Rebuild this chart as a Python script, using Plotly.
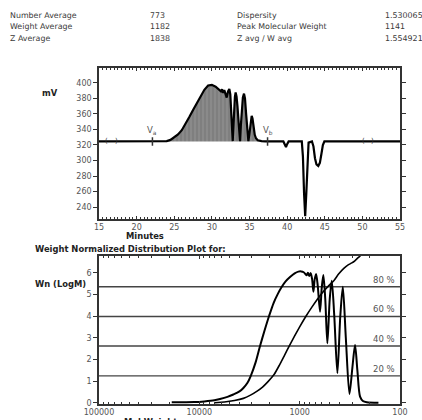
import plotly.graph_objects as go

# ---------------- data ----------------
header_left_labels = ["Number Average", "Weight Average", "Z Average"]
header_left_values = ["773", "1182", "1838"]
header_right_labels = ["Dispersity", "Peak Molecular Weight", "Z avg / W avg"]
header_right_values = ["1.530065", "1141", "1.554921"]

# chromatogram (minutes, mV)
time_min = [15, 23.6, 24.0, 24.5, 25.0, 25.5, 26.0, 26.5, 27.0, 27.5, 28.0, 28.5, 29.0, 29.5,
            30.0, 30.5, 31.0, 31.2, 31.35, 31.5, 31.65, 31.8, 31.97, 32.15, 32.32, 32.45, 32.6,
            32.77, 32.87, 32.97, 33.06, 33.16, 33.28, 33.4, 33.55, 33.65, 33.74, 33.85, 33.97,
            34.12, 34.27, 34.4, 34.55, 34.7, 34.85, 34.97, 35.1, 35.2, 35.29, 35.4, 35.55, 35.7,
            35.86, 36.1, 36.6, 37.1, 39.5, 39.7, 39.85, 40.0, 40.2, 41.95, 42.1, 42.25, 42.4,
            42.55, 42.7, 42.85, 43.3, 43.5, 43.7, 43.9, 44.14, 44.35, 44.55, 44.75, 44.95, 55]
signal_mv = [324.5, 324.5, 325.0, 326.5, 329.5, 333.5, 339.0, 347.0, 356.0, 365.0, 374.0, 383.0, 391.0, 396.5,
             397.3, 395.0, 391.5, 389.0, 391.5, 387.0, 390.5, 386.0, 381.0, 389.0, 392.0, 385.0, 360.0,
             325.0, 345.0, 368.0, 382.0, 387.5, 382.0, 370.0, 350.0, 335.0, 325.0, 345.0, 368.0,
             381.0, 386.0, 380.0, 360.0, 338.0, 325.0, 333.0, 345.0, 354.0, 357.4, 354.0, 343.0, 333.0,
             328.6, 326.0, 325.0, 324.5, 324.5, 321.0, 317.4, 321.0, 324.5, 324.5, 305.0, 258.0, 228.5,
             258.0, 305.0, 323.0, 324.5, 318.0, 303.0, 295.0, 293.0, 297.0, 308.0, 320.0, 324.5, 324.5]
baseline_mv = 324.5
peak_start_min = 23.6
peak_end_min = 37.1
va_min = 22.1
vb_min = 37.4
bracket_left = [16.0, 17.3]
bracket_right = [50.1, 51.4]
mv_ticks = [240, 260, 280, 300, 320, 340, 360, 380, 400]
minute_ticks = [15, 20, 25, 30, 35, 40, 45, 50, 55]

# weight normalized distribution (log10 M, Wn)
dist_logm = [4.275, 4.05, 3.95, 3.85, 3.794, 3.72, 3.661, 3.60, 3.561, 3.52, 3.488, 3.44, 3.395, 3.35,
             3.305, 3.26, 3.22, 3.178, 3.14, 3.096, 3.05, 3.013, 2.985, 2.96, 2.945, 2.93, 2.918,
             2.905, 2.89, 2.876, 2.863, 2.85, 2.836, 2.82, 2.797, 2.78, 2.764, 2.745, 2.724, 2.70,
             2.68, 2.655, 2.624, 2.595, 2.57, 2.54, 2.504, 2.475, 2.448, 2.425, 2.398, 2.37, 2.331, 2.215]
dist_wn = [0.02, 0.03, 0.06, 0.11, 0.17, 0.27, 0.38, 0.52, 0.68, 0.92, 1.23, 1.85, 2.62, 3.33,
           4.0, 4.6, 5.0, 5.35, 5.6, 5.8, 5.97, 6.05, 6.06, 6.02, 5.95, 5.88, 6.0,
           5.85, 5.98, 5.7, 5.12, 5.7, 5.94, 5.4, 4.2, 5.3, 5.89, 4.8, 2.74, 4.8,
           5.63, 4.0, 1.36, 4.0, 5.35, 3.0, 0.4, 1.6, 2.66, 1.5, 0.28, 0.08, 0.02, 0.0]

# cumulative distribution (log10 M, Wn-scale)
cum_logm = [3.85, 3.75, 3.65, 3.561, 3.49, 3.428, 3.37, 3.32, 3.255, 3.2, 3.15, 3.103, 3.05, 3.0,
            2.936, 2.88, 2.82, 2.77, 2.714, 2.66, 2.61, 2.56, 2.52, 2.48, 2.45, 2.42, 2.398, 2.37]
cum_wn = [0.0, 0.03, 0.1, 0.2, 0.35, 0.52, 0.72, 0.95, 1.3, 1.75, 2.2, 2.62, 3.08, 3.5,
          4.0, 4.4, 4.8, 5.1, 5.38, 5.63, 5.95, 6.2, 6.35, 6.45, 6.55, 6.68, 6.77, 6.9]

pct_labels = ["20 %", "40 %", "60 %", "80 %"]
pct_levels = [1.24, 2.62, 3.98, 5.35]
wn_ticks = [0, 1, 2, 3, 4, 5, 6]
mw_ticks = [100000, 10000, 1000, 100]
mw_ticktext = ["100000", "10000", "1000", "100"]

# ---------------- figure ----------------
W, H = 422, 420
FONT = "DejaVu Sans"
AX = "#333333"
TXT = "#555555"


def px(x):
    return x / W


def py(y):
    return 1 - y / H


fig = go.Figure()

# top chromatogram fill
pk_t = [t for t in time_min if peak_start_min <= t <= peak_end_min]
pk_v = [v for t, v in zip(time_min, signal_mv) if peak_start_min <= t <= peak_end_min]
fig.add_trace(go.Scatter(x=[pk_t[0], pk_t[-1]], y=[baseline_mv, baseline_mv], mode="lines",
                         line=dict(width=0), showlegend=False, hoverinfo="skip",
                         xaxis="x", yaxis="y"))
fig.add_trace(go.Scatter(x=pk_t, y=pk_v, mode="lines", line=dict(width=0), fill="tonexty",
                         fillcolor="#858585",
                         fillpattern=dict(shape="|", bgcolor="#8a8a8a", fgcolor="#6a6a6a",
                                          size=4, solidity=0.35),
                         showlegend=False, hoverinfo="skip", xaxis="x", yaxis="y"))
fig.add_trace(go.Scatter(x=time_min, y=signal_mv, mode="lines",
                         line=dict(color="black", width=2.2), showlegend=False,
                         xaxis="x", yaxis="y"))
fig.add_trace(go.Scatter(x=[va_min, vb_min], y=[baseline_mv, baseline_mv], mode="markers",
                         marker=dict(symbol="line-ns", size=6, line=dict(color=AX, width=1.5)),
                         showlegend=False, xaxis="x", yaxis="y"))

# bottom distribution
fig.add_trace(go.Scatter(x=[10 ** v for v in cum_logm], y=cum_wn, mode="lines",
                         line=dict(color="black", width=1.6, shape="spline", smoothing=0.6),
                         showlegend=False, xaxis="x2", yaxis="y2"))
fig.add_trace(go.Scatter(x=[10 ** v for v in dist_logm], y=dist_wn, mode="lines",
                         line=dict(color="black", width=2.0, shape="spline", smoothing=0.8),
                         showlegend=False, xaxis="x2", yaxis="y2"))

shapes = []
for lv in pct_levels:
    shapes.append(dict(type="line", xref="x2 domain", yref="y2", x0=0, x1=1, y0=lv, y1=lv,
                       line=dict(color="#444444", width=1.4), layer="below"))

annotations = []
hdr_rows = [16, 27, 38.5]
for i in range(3):
    y = py(hdr_rows[i])
    annotations += [
        dict(x=px(8), y=y, text=header_left_labels[i], xanchor="left"),
        dict(x=px(148), y=y, text=header_left_values[i], xanchor="left"),
        dict(x=px(235), y=y, text=header_right_labels[i], xanchor="left"),
        dict(x=px(383), y=y, text=header_right_values[i], xanchor="left"),
    ]
for a in annotations:
    a.update(xref="paper", yref="paper", yanchor="middle", showarrow=False,
             font=dict(family=FONT, size=7.9, color="#3a3a3a"))

bold = dict(family=FONT, size=8.4, color="#222222")
annotations += [
    dict(x=px(50), y=py(93), text="<b>mV</b>", xref="paper", yref="paper", showarrow=False,
         xanchor="center", yanchor="middle", font=bold),
    dict(x=px(145), y=py(236), text="<b>Minutes</b>", xref="paper", yref="paper", showarrow=False,
         xanchor="center", yanchor="middle", font=bold),
    dict(x=px(33), y=py(249), text="<b>Weight Normalized Distribution Plot for:</b>", xref="paper",
         yref="paper", showarrow=False, xanchor="left", yanchor="middle", font=bold),
    dict(x=px(60), y=py(284), text="<b>Wn (LogM)</b>", xref="paper", yref="paper", showarrow=False,
         xanchor="center", yanchor="middle", font=bold),
    dict(x=px(150), y=py(415), text="<b>Mol Weight</b>", xref="paper", yref="paper", showarrow=False,
         xanchor="center", yanchor="top", font=bold),
    dict(x=va_min, y=baseline_mv + 5, text="V<sub>a</sub>", xref="x", yref="y", showarrow=False,
         xanchor="center", yanchor="bottom", font=dict(family=FONT, size=8.5, color=TXT)),
    dict(x=vb_min, y=baseline_mv + 5, text="V<sub>b</sub>", xref="x", yref="y", showarrow=False,
         xanchor="center", yanchor="bottom", font=dict(family=FONT, size=8.5, color=TXT)),
]
for bx, ch in zip(bracket_left + bracket_right, ["(", ")", "(", ")"]):
    annotations.append(dict(x=bx, y=baseline_mv, text=ch, xref="x", yref="y", showarrow=False,
                            xanchor="center", yanchor="middle",
                            font=dict(family=FONT, size=7, color=AX)))
for lbl, lv in zip(pct_labels, pct_levels):
    annotations.append(dict(x=px(384), y=lv, text=lbl, xref="paper", yref="y2", showarrow=False,
                            xanchor="center", yanchor="bottom", yshift=0,
                            font=dict(family=FONT, size=8.5, color=TXT)))

tickfont = dict(family=FONT, size=8, color=TXT)
axis_common = dict(showline=True, linecolor=AX, linewidth=1.5, showgrid=False, zeroline=False,
                   mirror="ticks", tickcolor=AX, tickfont=tickfont, automargin=False)

minor_mw = [m * 10 ** d for d in range(2, 5) for m in range(2, 10)]

fig.update_layout(
    width=W, height=H, margin=dict(l=0, r=0, t=0, b=0, autoexpand=False),
    paper_bgcolor="white", plot_bgcolor="white",
    xaxis=dict(domain=[px(99), px(400)], anchor="y", range=[15, 55], tickvals=minute_ticks,
               ticks="inside", ticklen=3, tickwidth=1,
               minor=dict(ticks="inside", ticklen=2, dtick=0.5, tickcolor=AX), **axis_common),
    yaxis=dict(domain=[py(218.5), py(68)], anchor="x", range=[225.4, 419], tickvals=mv_ticks,
               ticks="outside", ticklen=4, tickwidth=1, **axis_common),
    xaxis2=dict(domain=[px(99), px(400)], anchor="y2", type="log", range=[5, 2],
                tickvals=mw_ticks, ticktext=mw_ticktext, ticks="inside", ticklen=3, tickwidth=1,
                minor=dict(ticks="inside", ticklen=2, tickvals=minor_mw, tickcolor=AX),
                **axis_common),
    yaxis2=dict(domain=[py(404), py(256)], anchor="x2", range=[-0.06, 6.77], tickvals=wn_ticks,
                ticks="outside", ticklen=4, tickwidth=1, **axis_common),
    shapes=shapes,
    annotations=annotations,
)

fig.write_html("out.html", config={"displayModeBar": False},
               post_script="document.body.style.margin='0';document.body.style.overflow='hidden';")
